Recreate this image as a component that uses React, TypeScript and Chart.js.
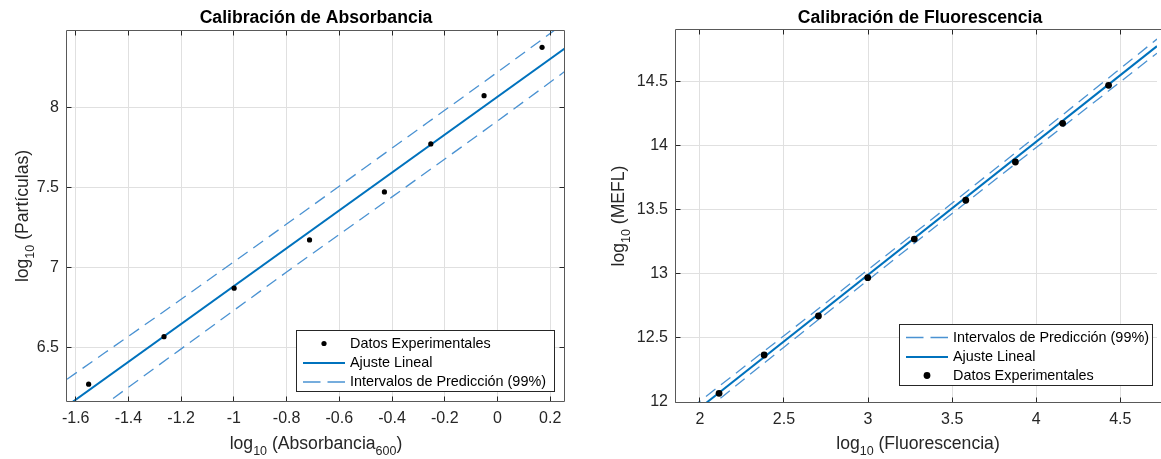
import React, { useEffect, useRef } from 'react';
import { Chart, registerables } from 'chart.js';

Chart.register(...registerables);

// ---------- Left panel: Calibración de Absorbancia ----------
const absX = [-1.551, -1.265, -0.999, -0.713, -0.429, -0.253, -0.051, 0.169];
const absY = [6.269, 6.566, 6.869, 7.171, 7.471, 7.771, 8.073, 8.375];
const absFitX = [-1.633, 0.256];
const absFitY = [6.133, 8.369];
const absBandX = [-1.633, -1.2, -0.8, -0.4, 0, 0.256];
const absUpperY = [6.3, 6.8, 7.27, 7.745, 8.22, 8.53];
const absLowerY = [5.97, 6.49, 6.97, 7.44, 7.915, 8.225];
const absXTicks = [-1.6, -1.4, -1.2, -1, -0.8, -0.6, -0.4, -0.2, 0, 0.2];
const absYTicks = [6.5, 7, 7.5, 8];

// ---------- Right panel: Calibración de Fluorescencia ----------
const fluX = [2.114, 2.382, 2.705, 2.998, 3.275, 3.581, 3.876, 4.157, 4.43];
const fluY = [12.068, 12.367, 12.672, 12.971, 13.273, 13.576, 13.875, 14.177, 14.474];
const fluFitX = [1.858, 4.718];
const fluFitY = [11.806, 14.78];
const fluBandX = [1.858, 2.5, 3.3, 4.0, 4.718];
const fluUpperY = [11.861, 12.518, 13.345, 14.078, 14.835];
const fluLowerY = [11.751, 12.428, 13.265, 13.988, 14.725];
const fluXTicks = [2, 2.5, 3, 3.5, 4, 4.5];
const fluYTicks = [12, 12.5, 13, 13.5, 14, 14.5];

// ---------- Text ----------
const LBL_DATA = 'Datos Experimentales';
const LBL_FIT = 'Ajuste Lineal';
const LBL_BAND = 'Intervalos de Predicción (99%)';

const FONT = '"Liberation Sans", Arial, Helvetica, sans-serif';
const AXIS_COLOR = '#262626';
const GRID_COLOR = '#e0e0e0';
const FIT_COLOR = '#0072bd';
const BAND_COLOR = '#4a92d2';

type Part = { t: string; sub?: boolean };

type Panel = {
  offsetX: number;
  width: number;
  x: number[]; y: number[];
  fitX: number[]; fitY: number[];
  bandX: number[]; upperY: number[]; lowerY: number[];
  xTicks: number[]; yTicks: number[];
  xMin: number; xMax: number; yMin: number; yMax: number;
  pad: { left: number; right: number; top: number; bottom: number };
  yWidth: number; xHeight: number;
  markerR: number;
  title: string; titleX: number;
  xLabel: Part[]; yLabel: Part[];
  xLabelX: number; yLabelX: number;
  rightBorder: boolean;
  legend: { x: number; y: number; w: number; h: number; rows: number[]; entries: string[] };
};

const panels: Panel[] = [
  {
    offsetX: 0, width: 580,
    x: absX, y: absY, fitX: absFitX, fitY: absFitY,
    bandX: absBandX, upperY: absUpperY, lowerY: absLowerY,
    xTicks: absXTicks, yTicks: absYTicks,
    xMin: -1.633, xMax: 0.256, yMin: 6.164, yMax: 8.477,
    pad: { left: 0, right: 15, top: 31, bottom: 0 },
    yWidth: 67, xHeight: 58,
    markerR: 2.6,
    title: 'Calibración de Absorbancia', titleX: 316,
    xLabel: [{ t: 'log' }, { t: '10', sub: true }, { t: ' (Absorbancia' }, { t: '600', sub: true }, { t: ')' }],
    yLabel: [{ t: 'log' }, { t: '10', sub: true }, { t: ' (Partículas)' }],
    xLabelX: 316, yLabelX: 28,
    rightBorder: true,
    legend: { x: 296, y: 330, w: 258, h: 61, rows: [13.5, 33, 52], entries: ['data', 'fit', 'band'] },
  },
  {
    offsetX: 580, width: 581,
    x: fluX, y: fluY, fitX: fluFitX, fitY: fluFitY,
    bandX: fluBandX, upperY: fluUpperY, lowerY: fluLowerY,
    xTicks: fluXTicks, yTicks: fluYTicks,
    xMin: 1.858, xMax: 4.718, yMin: 12, yMax: 14.906,
    pad: { left: 0, right: 0, top: 30, bottom: 0 },
    yWidth: 96, xHeight: 57,
    markerR: 3.4,
    title: 'Calibración de Fluorescencia', titleX: 920,
    xLabel: [{ t: 'log' }, { t: '10', sub: true }, { t: ' (Fluorescencia)' }],
    yLabel: [{ t: 'log' }, { t: '10', sub: true }, { t: ' (MEFL)' }],
    xLabelX: 918, yLabelX: 624,
    rightBorder: false,
    legend: { x: 899, y: 324, w: 253, h: 61, rows: [13.5, 33, 51.5], entries: ['band', 'fit', 'data'] },
  },
];

function drawRich(ctx: CanvasRenderingContext2D, parts: Part[], cx: number, baseline: number, rotate: boolean, centerAlong: number) {
  const base = `17.6px ${FONT}`;
  const sub = `12.5px ${FONT}`;
  let total = 0;
  const widths = parts.map((p) => {
    ctx.font = p.sub ? sub : base;
    const w = ctx.measureText(p.t).width;
    total += w;
    return w;
  });
  ctx.save();
  if (rotate) {
    ctx.translate(baseline, centerAlong);
    ctx.rotate(-Math.PI / 2);
  } else {
    ctx.translate(cx, baseline);
  }
  ctx.fillStyle = AXIS_COLOR;
  ctx.textBaseline = 'alphabetic';
  ctx.textAlign = 'left';
  let x = -total / 2;
  parts.forEach((p, i) => {
    ctx.font = p.sub ? sub : base;
    ctx.fillText(p.t, x, p.sub ? 6 : 0);
    x += widths[i];
  });
  ctx.restore();
}

function makeDecor(p: Panel) {
  return {
    id: 'decor',
    afterDraw(chart: any) {
      const ctx: CanvasRenderingContext2D = chart.ctx;
      const a = chart.chartArea;
      const xs = chart.scales.x;
      const ys = chart.scales.y;
      const L = Math.round(a.left) - 0.5;
      const R = Math.round(a.right) - 0.5;
      const T = Math.round(a.top) - 0.5;
      const B = Math.round(a.bottom) + 0.5;
      ctx.save();
      // inward tick marks
      ctx.strokeStyle = AXIS_COLOR;
      ctx.lineWidth = 1;
      ctx.beginPath();
      p.xTicks.forEach((v) => {
        const px = Math.round(xs.getPixelForValue(v) - 0.5) + 0.5;
        ctx.moveTo(px, B); ctx.lineTo(px, B - 5);
        ctx.moveTo(px, T); ctx.lineTo(px, T + 5);
      });
      p.yTicks.forEach((v) => {
        const py = Math.round(ys.getPixelForValue(v) - 0.5) + 0.5;
        ctx.moveTo(L, py); ctx.lineTo(L + 5, py);
        if (p.rightBorder) { ctx.moveTo(R, py); ctx.lineTo(R - 5, py); }
      });
      ctx.stroke();
      // box
      ctx.strokeStyle = '#595959';
      ctx.beginPath();
      ctx.moveTo(L, B); ctx.lineTo(L, T); ctx.lineTo(p.rightBorder ? R : chart.width, T);
      if (p.rightBorder) ctx.lineTo(R, B);
      ctx.moveTo(L, B); ctx.lineTo(p.rightBorder ? R : chart.width, B);
      ctx.stroke();

      // title
      ctx.fillStyle = '#000';
      ctx.font = `bold 17.6px ${FONT}`;
      ctx.textAlign = 'center';
      ctx.textBaseline = 'alphabetic';
      ctx.fillText(p.title, p.titleX - p.offsetX, 23);

      // axis labels
      drawRich(ctx, p.xLabel, p.xLabelX - p.offsetX, 449, false, 0);
      drawRich(ctx, p.yLabel, 0, p.yLabelX - p.offsetX, true, (a.top + a.bottom) / 2);

      // legend
      const lg = p.legend;
      const x0 = lg.x - p.offsetX;
      ctx.fillStyle = '#fff';
      ctx.fillRect(x0, lg.y, lg.w, lg.h);
      ctx.strokeStyle = AXIS_COLOR;
      ctx.lineWidth = 1;
      ctx.strokeRect(x0 + 0.5, lg.y + 0.5, lg.w, lg.h);
      lg.entries.forEach((e, i) => {
        const y = lg.y + lg.rows[i];
        const s0 = x0 + 7;
        const s1 = x0 + 49;
        let label = '';
        if (e === 'band') {
          label = LBL_BAND;
          ctx.strokeStyle = BAND_COLOR;
          ctx.lineWidth = 1.3;
          ctx.setLineDash([17.5, 7]);
          ctx.beginPath(); ctx.moveTo(s0, y); ctx.lineTo(s1, y); ctx.stroke();
          ctx.setLineDash([]);
        } else if (e === 'fit') {
          label = LBL_FIT;
          ctx.strokeStyle = FIT_COLOR;
          ctx.lineWidth = 2;
          ctx.beginPath(); ctx.moveTo(s0, y); ctx.lineTo(s1, y); ctx.stroke();
        } else {
          label = LBL_DATA;
          ctx.fillStyle = '#000';
          ctx.beginPath(); ctx.arc((s0 + s1) / 2, y, p.markerR, 0, Math.PI * 2); ctx.fill();
        }
        ctx.fillStyle = '#000';
        ctx.font = `14.4px ${FONT}`;
        ctx.textAlign = 'left';
        ctx.textBaseline = 'middle';
        ctx.fillText(label, x0 + 54, y + 0.5);
      });
      ctx.restore();
    },
  };
}

function pts(xs: number[], ys: number[]) {
  return xs.map((x, i) => ({ x, y: ys[i] }));
}

function buildConfig(p: Panel): any {
  const tickFont = { family: FONT, size: 16 };
  return {
    type: 'scatter',
    data: {
      datasets: [
        {
          label: LBL_DATA, data: pts(p.x, p.y), showLine: false,
          pointRadius: p.markerR, pointBackgroundColor: '#000', pointBorderWidth: 0, pointBorderColor: '#000',
        },
        {
          label: LBL_FIT, data: pts(p.fitX, p.fitY), showLine: true,
          borderColor: FIT_COLOR, borderWidth: 2, pointRadius: 0, fill: false,
        },
        {
          label: LBL_BAND, data: pts(p.bandX, p.upperY), showLine: true,
          borderColor: BAND_COLOR, borderWidth: 1.3, borderDash: [12, 7], pointRadius: 0, fill: false,
          cubicInterpolationMode: 'monotone', tension: 0.3,
        },
        {
          label: LBL_BAND + ' ', data: pts(p.bandX, p.lowerY), showLine: true,
          borderColor: BAND_COLOR, borderWidth: 1.3, borderDash: [12, 7], pointRadius: 0, fill: false,
          cubicInterpolationMode: 'monotone', tension: 0.3,
        },
      ],
    },
    options: {
      animation: false,
      responsive: false,
      devicePixelRatio: 1,
      events: [],
      layout: { padding: p.pad },
      plugins: { legend: { display: false }, tooltip: { enabled: false }, title: { display: false } },
      scales: {
        x: {
          type: 'linear', min: p.xMin, max: p.xMax,
          afterBuildTicks: (s: any) => { s.ticks = p.xTicks.map((v) => ({ value: v })); },
          afterFit: (s: any) => { s.height = p.xHeight; },
          ticks: { font: tickFont, color: AXIS_COLOR, padding: 8, autoSkip: false, maxRotation: 0, callback: (v: any) => String(v) },
          grid: { color: GRID_COLOR, drawTicks: false, lineWidth: 1 },
          border: { display: false },
        },
        y: {
          type: 'linear', min: p.yMin, max: p.yMax,
          afterBuildTicks: (s: any) => { s.ticks = p.yTicks.map((v) => ({ value: v })); },
          afterFit: (s: any) => { s.width = p.yWidth; },
          ticks: { font: tickFont, color: AXIS_COLOR, padding: 8, autoSkip: false, callback: (v: any) => String(v) },
          grid: { color: GRID_COLOR, drawTicks: false, lineWidth: 1 },
          border: { display: false },
        },
      },
    },
    plugins: [makeDecor(p)],
  };
}

function PanelCanvas({ p }: { p: Panel }) {
  const ref = useRef<HTMLCanvasElement>(null);
  useEffect(() => {
    const chart = new Chart(ref.current as HTMLCanvasElement, buildConfig(p));
    return () => chart.destroy();
  }, [p]);
  return (
    <canvas
      ref={ref}
      width={p.width}
      height={459}
      style={{ position: 'absolute', left: p.offsetX, top: 0, width: p.width, height: 459 }}
    />
  );
}

export default function App() {
  return (
    <div style={{ position: 'fixed', left: 0, top: 0, width: 1161, height: 459, background: '#fff', overflow: 'hidden' }}>
      {panels.map((p, i) => (
        <PanelCanvas key={i} p={p} />
      ))}
    </div>
  );
}
